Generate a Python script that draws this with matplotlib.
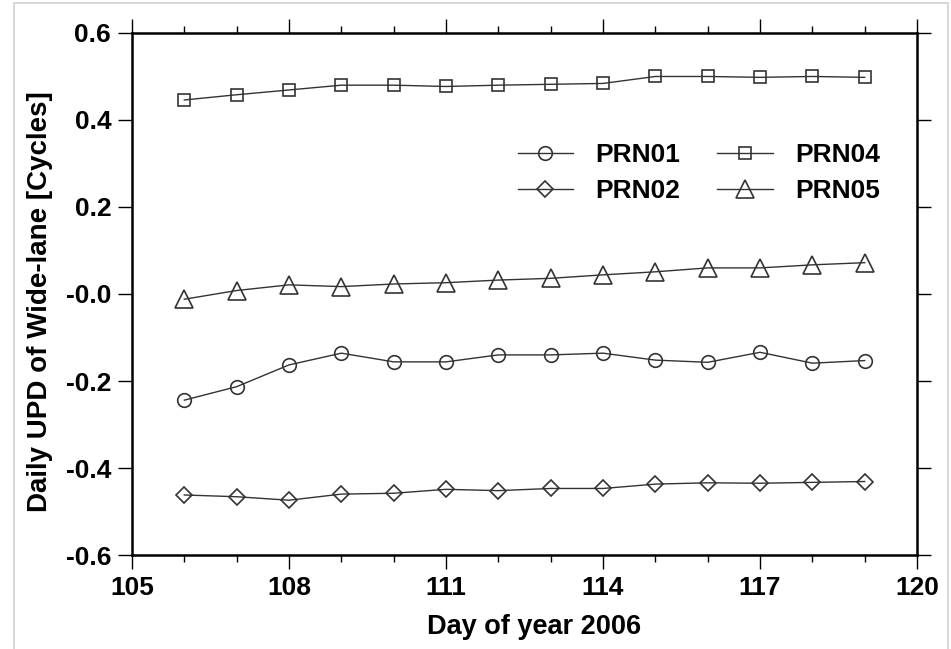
import numpy as np
import matplotlib.pyplot as plt
from matplotlib.patches import Rectangle

plt.rcParams['font.family'] = ['Liberation Sans', 'DejaVu Sans']
plt.rcParams['font.weight'] = 'bold'

# Daily wide-lane UPD values
days = [106, 107, 108, 109, 110, 111, 112, 113, 114, 115, 116, 117, 118, 119]
prn01 = [-0.244, -0.213, -0.163, -0.136, -0.156, -0.156, -0.140, -0.140,
         -0.136, -0.152, -0.157, -0.134, -0.159, -0.153]
prn02 = [-0.462, -0.466, -0.474, -0.460, -0.458, -0.449, -0.452, -0.447,
         -0.447, -0.437, -0.434, -0.435, -0.433, -0.431]
prn04 = [0.446, 0.458, 0.469, 0.480, 0.480, 0.477, 0.480, 0.482,
         0.484, 0.500, 0.500, 0.498, 0.500, 0.498]
prn05 = [-0.012, 0.008, 0.021, 0.017, 0.023, 0.026, 0.032, 0.036,
         0.044, 0.051, 0.060, 0.060, 0.067, 0.072]

xticks = [105, 108, 111, 114, 117, 120]
yticks = [-0.6, -0.4, -0.2, 0.0, 0.2, 0.4, 0.6]
ytick_labels = ['-0.6', '-0.4', '-0.2', '-0.0', '0.2', '0.4', '0.6']

fig = plt.figure(figsize=(9.51, 6.49), dpi=100)
# light grey frame of the original screenshot
fig.patches.append(Rectangle((14 / 951, -0.01), 934 / 951, 1 - 3 / 649 + 0.01,
                             transform=fig.transFigure, fill=False,
                             edgecolor='#d0d0d0', linewidth=1.2))
ax = fig.add_axes([0.1388, 0.1448, 0.8255, 0.8044])

line_kw = dict(color='#333333', linewidth=1.0, markerfacecolor='none',
               markeredgecolor='#333333', markeredgewidth=1.2)
ax.plot(days, prn01, marker='o', markersize=9.8, label='PRN01', **line_kw)
ax.plot(days, prn02, marker='D', markersize=8.2, label='PRN02', **line_kw)
ax.plot(days, prn04, marker='s', markersize=9.2, label='PRN04', **line_kw)
ax.plot(days, prn05, marker='^', markersize=12.5, label='PRN05', **line_kw)

ax.set_xlim(105, 120)
ax.set_ylim(-0.6, 0.6)
ax.set_xticks(xticks)
ax.set_xticks(np.arange(105, 121), minor=True)
ax.set_yticks(yticks)
ax.set_yticklabels(ytick_labels)

for s in ax.spines.values():
    s.set_linewidth(1.8)
ax.tick_params(which='major', direction='out', length=10, width=1.0,
               labelsize=19, top=True, right=True, pad=5)
ax.tick_params(which='minor', direction='out', length=5, width=1.0,
               top=True, bottom=True)
for lab in ax.get_xticklabels() + ax.get_yticklabels():
    lab.set_fontweight('bold')

ax.set_xlabel('Day of year 2006', fontsize=19.5, fontweight='bold')
ax.set_ylabel('Daily UPD of Wide-lane [Cycles]', fontsize=20,
              fontweight='bold')
ax.xaxis.set_label_coords(0.512, -0.113)
ax.yaxis.set_label_coords(-0.1, 0.485)

handles, labels = ax.get_legend_handles_labels()
ax.legend(handles, labels, ncol=2, loc='center', bbox_to_anchor=(0.722, 0.731),
          frameon=False, handlelength=2.1, handletextpad=0.85,
          columnspacing=1.4, labelspacing=0.45, prop={'weight': 'bold', 'size': 19})

fig.savefig('out.png', dpi=100)
